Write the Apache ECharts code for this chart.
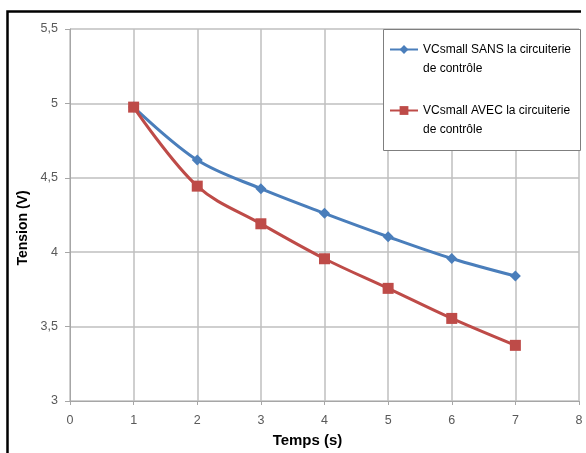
<!DOCTYPE html>
<html><head><meta charset="utf-8">
<script src="https://cdn.jsdelivr.net/npm/echarts@6/dist/echarts.min.js"></script>
<style>html,body{margin:0;padding:0;background:#fff}#c{width:586px;height:453px}</style>
</head><body><div id="c"></div>
<script>
var times = [1, 2, 3, 4, 5, 6, 7];
var sansValues = [4.975, 4.619, 4.427, 4.261, 4.104, 3.958, 3.840];
var avecValues = [4.975, 4.444, 4.191, 3.956, 3.757, 3.555, 3.374];
var seriesNames = ['VCsmall SANS la circuiterie\nde contrôle', 'VCsmall AVEC la circuiterie\nde contrôle'];
var xTitle = 'Temps (s)';
var yTitle = 'Tension (V)';

var FONT = "'Liberation Sans',sans-serif";
function pairs(xs, ys){ return xs.map(function(x,i){ return [x, ys[i]]; }); }

var chart = echarts.init(document.getElementById('c'), null, {renderer:'canvas'});
chart.setOption({
  backgroundColor: '#fff',
  animation: false,
  textStyle: {fontFamily: FONT},
  graphic: [{
    type: 'polyline',
    shape: {points: [[7.5, 470], [7.5, 11.5], [581, 11.5]]},
    style: {stroke: '#000', lineWidth: 2.5, fill: null},
    z: 100
  }, {
    type: 'rect',
    shape: {x: 383.5, y: 29.5, width: 197, height: 121},
    style: {stroke: '#7f7f7f', lineWidth: 1, fill: '#fff'},
    z: 50
  }],
  grid: {left: 70, right: 7, top: 29, bottom: 52, containLabel: false, outerBoundsMode: 'none'},
  legend: {
    orient: 'vertical',
    left: 389, top: 21,
    padding: 0,
    itemGap: 4,
    itemWidth: 28, itemHeight: 11,
    z: 60,
    formatter: function(n){ return ' \n' + n; },
    textStyle: {fontFamily: FONT, fontSize: 12, color: '#000', lineHeight: 19},
    data: [seriesNames[0], seriesNames[1]]
  },
  xAxis: {
    type: 'value', min: 0, max: 8, interval: 1,
    name: xTitle, nameLocation: 'middle', nameGap: 32,
    nameTextStyle: {fontFamily: FONT, fontSize: 15, fontWeight: 'bold', color: '#000', padding: [0, 34, 0, 0]},
    axisLine: {show: true, lineStyle: {color: '#a6a6a6', width: 1}},
    axisTick: {show: true, length: 4, lineStyle: {color: '#a6a6a6'}},
    axisLabel: {color: '#595959', fontSize: 12.5, margin: 13, fontFamily: FONT},
    splitLine: {show: true, lineStyle: {color: '#bfbfbf', width: 1.5}}
  },
  yAxis: {
    type: 'value', min: 3, max: 5.5, interval: 0.5,
    name: yTitle, nameLocation: 'middle', nameGap: 35,
    nameTextStyle: {fontFamily: FONT, fontSize: 14, fontWeight: 'bold', color: '#000', padding: [0, 26, 0, 0]},
    axisLine: {show: true, lineStyle: {color: '#a6a6a6', width: 1}},
    axisTick: {show: true, length: 5, lineStyle: {color: '#a6a6a6'}},
    axisLabel: {color: '#595959', fontSize: 12.5, margin: 12, fontFamily: FONT,
      formatter: function(v){ return String(v).replace('.', ','); }},
    splitLine: {show: true, lineStyle: {color: '#bfbfbf', width: 1.5}}
  },
  series: [
    {
      name: seriesNames[0], type: 'line', data: pairs(times, sansValues),
      smooth: 0.35, symbol: 'diamond', symbolSize: 11,
      lineStyle: {color: '#4a7ebb', width: 3},
      itemStyle: {color: '#4a7ebb'}
    },
    {
      name: seriesNames[1], type: 'line', data: pairs(times, avecValues),
      smooth: 0.35, symbol: 'rect', symbolSize: 11,
      lineStyle: {color: '#be4b48', width: 3},
      itemStyle: {color: '#be4b48'}
    }
  ]
});
</script>
</body></html>
